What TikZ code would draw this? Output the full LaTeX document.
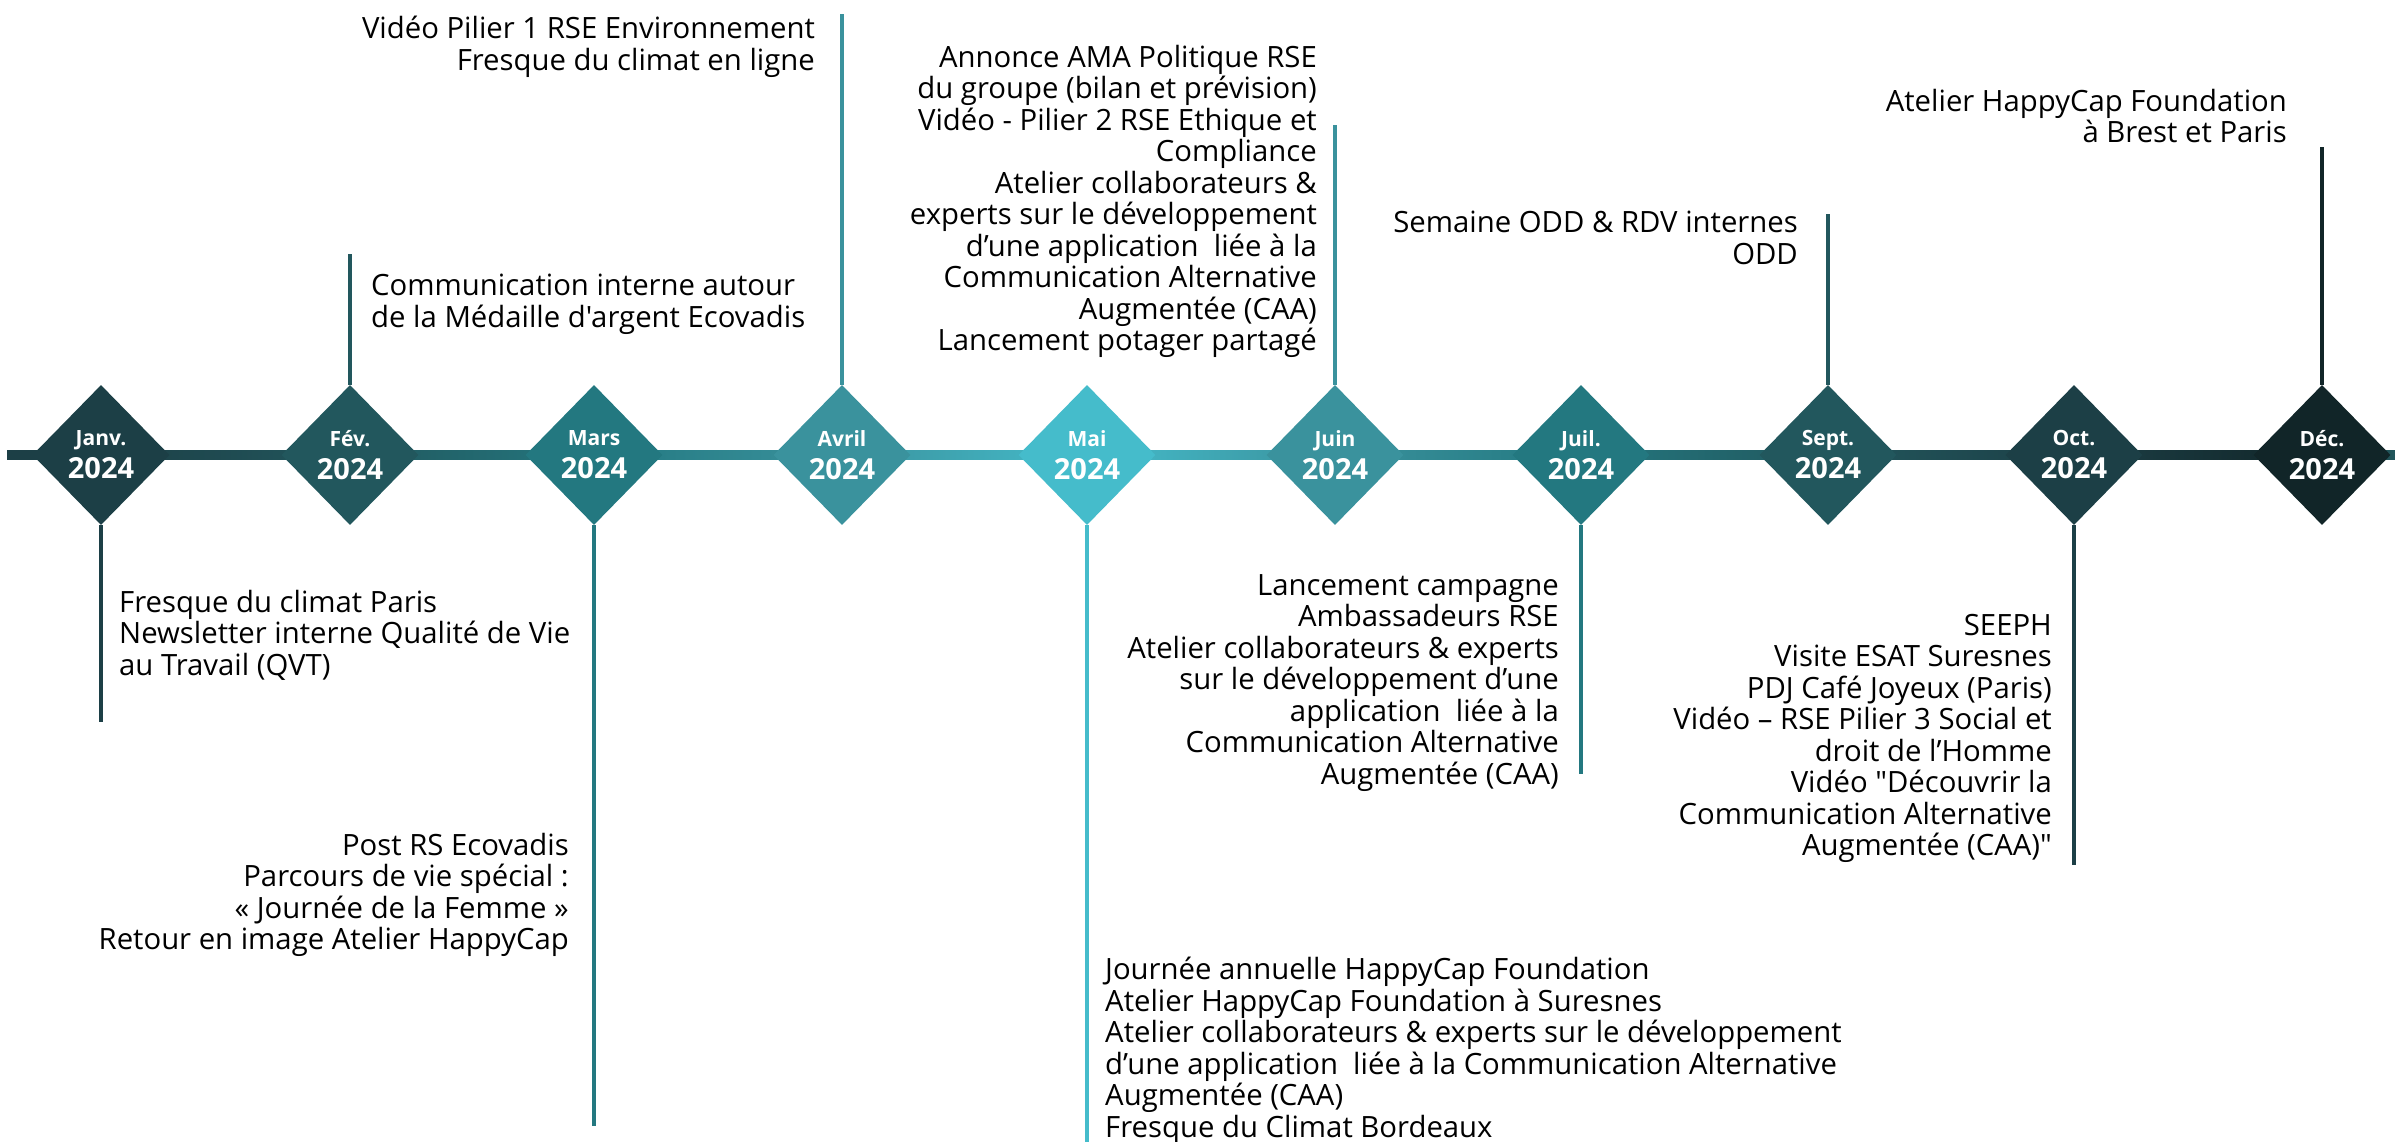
\documentclass[tikz,border=0pt]{standalone}
\usepackage{fontspec}
\newfontfamily\evtfont{Open Sans}
\usetikzlibrary{shapes.geometric}

\definecolor{tealA}{HTML}{1C3F46}
\definecolor{tealB}{HTML}{22575D}
\definecolor{tealC}{HTML}{237880}
\definecolor{tealD}{HTML}{3A929D}
\definecolor{tealE}{HTML}{45BCCB}
\definecolor{tealF}{HTML}{112528}

\begin{document}
\begin{tikzpicture}[x=1pt, y=-1pt,
    month/.style={diamond, fill=#1, inner sep=0pt, minimum width=137pt,
      minimum height=140pt, text=white, align=center,
      font=\evtfont\bfseries\fontsize{29}{33}\selectfont},
    stem/.style={draw=#1, line width=3.5pt},
    evt/.style={inner sep=0pt, font=\evtfont\fontsize{29.3}{31.5}\selectfont}]
  \useasboundingbox (0,0) rectangle (2395,1142);

  %month positions
  \foreach \i/\x in {0/7, 1/101, 2/350, 3/594, 4/842, 5/1087, 6/1335, 7/1581, 8/1828, 9/2074, 10/2322, 11/2395}
    \coordinate (c\i) at (\x,455);

  %timeline bar
  \foreach \a/\b/\ca/\cb in {0/1/tealA/tealA, 1/2/tealA/tealB, 2/3/tealB/tealC, 3/4/tealC/tealD, 4/5/tealD/tealE,
      5/6/tealE/tealD, 6/7/tealD/tealC, 7/8/tealC/tealB, 8/9/tealB/tealA, 9/10/tealA/tealF, 10/11/tealF/tealB}
    \shade[left color=\ca, right color=\cb] ([yshift=-4.5pt]c\a) rectangle ([yshift=4.5pt]c\b);

  %months
  \foreach \i/\mon/\col in {1/Janv./tealA, 2/Fév./tealB, 3/Mars/tealC, 4/Avril/tealD, 5/Mai/tealE,
      6/Juin/tealD, 7/Juil./tealC, 8/Sept./tealB, 9/Oct./tealA, 10/Déc./tealF}
    \node[month=\col] (d\i) at (c\i) {{\fontsize{21}{22}\selectfont \mon}\\2024};

  %stems
  \coordinate (s1) at (101,722);
  \coordinate (s2) at (350,254);
  \coordinate (s3) at (594,1126);
  \coordinate (s4) at (842,14);
  \coordinate (s5) at (1087,1142);
  \coordinate (s6) at (1335,125);
  \coordinate (s7) at (1581,774);
  \coordinate (s8) at (1828,214);
  \coordinate (s9) at (2074,865);
  \coordinate (s10) at (2322,147);
  \draw[stem=tealA] (d1.south) -- (s1);
  \draw[stem=tealB] (d2.north) -- (s2);
  \draw[stem=tealC] (d3.south) -- (s3);
  \draw[stem=tealD] (d4.north) -- (s4);
  \draw[stem=tealE] (d5.south) -- (s5);
  \draw[stem=tealD] (d6.north) -- (s6);
  \draw[stem=tealC] (d7.south) -- (s7);
  \draw[stem=tealB] (d8.north) -- (s8);
  \draw[stem=tealA] (d9.south) -- (s9);
  \draw[stem=tealF] (d10.north) -- (s10);

  %events
  \node[evt, anchor=north west, align=left] (t1) at (119,590)
    {Fresque du climat Paris\\Newsletter interne Qualité de Vie\\au Travail (QVT)};
  \node[evt, anchor=north west, align=left] (t2) at (371,274)
    {Communication interne autour\\de la Médaille d'argent Ecovadis};
  \node[evt, anchor=north east, align=right] (t3) at (569,833)
    {Post RS Ecovadis\\Parcours de vie spécial :\\« Journée de la Femme »\\Retour en image Atelier HappyCap};
  \node[evt, anchor=north east, align=right] (t4) at (815,16)
    {Vidéo Pilier 1 RSE Environnement\\Fresque du climat en ligne};
  \node[evt, anchor=north west, align=left] (t5) at (1105,957)
    {Journée annuelle HappyCap Foundation\\Atelier HappyCap Foundation à Suresnes\\
     Atelier collaborateurs \& experts sur le développement\\
     d’une application\ \ liée à la Communication Alternative\\Augmentée (CAA)\\Fresque du Climat Bordeaux};
  \node[evt, anchor=north east, align=right] (t6) at (1317,45)
    {Annonce AMA Politique RSE\\du groupe (bilan et prévision)\\Vidéo - Pilier 2 RSE Ethique et\\Compliance\\
     Atelier collaborateurs \&\\experts sur le développement\\d’une application\ \ liée à la\\
     Communication Alternative\\Augmentée (CAA)\\Lancement potager partagé};
  \node[evt, anchor=north east, align=right] (t7) at (1559,574)
    {Lancement campagne\\Ambassadeurs RSE\\Atelier collaborateurs \& experts\\sur le développement d’une\\
     application\ \ liée à la\\Communication Alternative\\Augmentée (CAA)};
  \node[evt, anchor=north east, align=right] (t8) at (1798,211)
    {Semaine ODD \& RDV internes\\ODD};
  \node[evt, anchor=north east, align=right] (t9) at (2052,614)
    {SEEPH\\Visite ESAT Suresnes\\PDJ Café Joyeux (Paris)\\Vidéo – RSE Pilier 3 Social et\\droit de l’Homme\\
     Vidéo "Découvrir la\\Communication Alternative\\Augmentée (CAA)"};
  \node[evt, anchor=north east, align=right] (t10) at (2287,89)
    {Atelier HappyCap Foundation\\à Brest et Paris};
\end{tikzpicture}
\end{document}
